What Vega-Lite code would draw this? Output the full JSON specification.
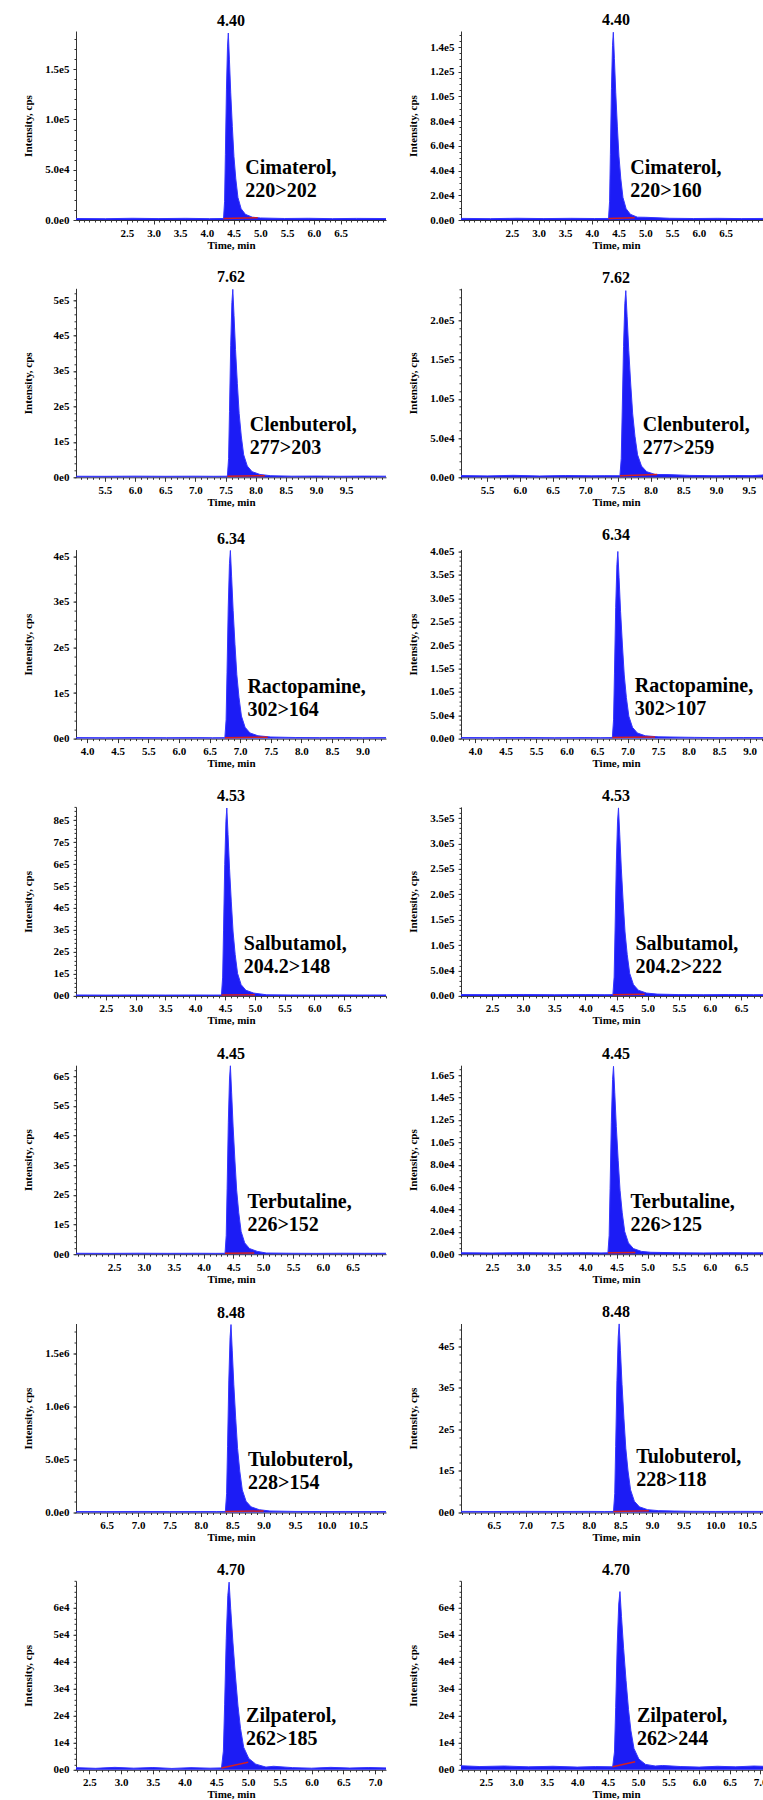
{
"$schema": "https://vega.github.io/schema/vega-lite/v6.json",
"padding": {"left": 22, "top": 12, "right": 0, "bottom": 0},
"columns": 2,
"spacing": {"row": 19.3, "column": 19},
"config": {
  "font": "Liberation Serif",
  "view": {"stroke": null},
  "title": {"font": "Liberation Serif", "fontSize": 16, "fontWeight": "bold", "color": "#000000", "offset": 2, "baseline": "alphabetic", "anchor": "middle", "frame": "group"},
  "axis": {"labelFont": "Liberation Serif", "labelFontSize": 11, "labelFontWeight": "bold", "labelColor": "#000000", "titleFont": "Liberation Serif", "titleFontSize": 11, "titleFontWeight": "bold", "titleColor": "#000000", "domainColor": "#333333", "tickColor": "#333333", "grid": false, "labelOverlap": false, "labelFlush": false},
  "axisX": {"tickSize": 4, "labelPadding": 3, "titlePadding": 1, "minExtent": 18, "maxExtent": 18},
  "axisY": {"tickSize": 3, "labelPadding": 4, "titlePadding": 5, "minExtent": 38, "maxExtent": 38},
  "area": {"color": "#1c1cf5", "clip": true},
  "line": {"clip": true},
  "text": {"align": "left", "baseline": "alphabetic", "dx": 17, "fontSize": 20, "fontWeight": "bold", "font": "Liberation Serif", "lineHeight": 23, "lineBreak": "\n", "color": "#000000"}
},
"datasets": {
"trace": [
{"p":"a","t":1.55,"i":1500},{"p":"a","t":2.1,"i":1300},{"p":"a","t":2.6,"i":1700},{"p":"a","t":3.1,"i":1400},{"p":"a","t":3.6,"i":1650},{"p":"a","t":4.05,"i":1350},{"p":"a","t":4.31,"i":1500},
{"p":"a","t":4.33,"i":18600},{"p":"a","t":4.345,"i":65100},{"p":"a","t":4.365,"i":130200},{"p":"a","t":4.385,"i":173000},{"p":"a","t":4.40,"i":186000},{"p":"a","t":4.42,"i":160000},{"p":"a","t":4.445,"i":126500},{"p":"a","t":4.475,"i":93000},{"p":"a","t":4.505,"i":63200},{"p":"a","t":4.54,"i":40900},{"p":"a","t":4.58,"i":22300},{"p":"a","t":4.64,"i":11200},{"p":"a","t":4.72,"i":5600},{"p":"a","t":4.85,"i":2800},
{"p":"a","t":5.0,"i":2000},{"p":"a","t":5.45,"i":1500},{"p":"a","t":5.9,"i":1700},{"p":"a","t":6.35,"i":1350},{"p":"a","t":6.8,"i":1600},{"p":"a","t":7.35,"i":1450},

{"p":"b","t":1.55,"i":1300},{"p":"b","t":2.1,"i":1100},{"p":"b","t":2.6,"i":1400},{"p":"b","t":3.1,"i":1150},{"p":"b","t":3.6,"i":1350},{"p":"b","t":4.05,"i":1200},{"p":"b","t":4.31,"i":1250},
{"p":"b","t":4.33,"i":15200},{"p":"b","t":4.345,"i":53200},{"p":"b","t":4.365,"i":106400},{"p":"b","t":4.385,"i":141400},{"p":"b","t":4.40,"i":152000},{"p":"b","t":4.42,"i":130700},{"p":"b","t":4.445,"i":103400},{"p":"b","t":4.475,"i":76000},{"p":"b","t":4.505,"i":51700},{"p":"b","t":4.54,"i":33400},{"p":"b","t":4.58,"i":18200},{"p":"b","t":4.64,"i":9100},{"p":"b","t":4.72,"i":4600},{"p":"b","t":4.85,"i":2300},
{"p":"b","t":5.0,"i":2200},{"p":"b","t":5.45,"i":1400},{"p":"b","t":5.9,"i":1200},{"p":"b","t":6.35,"i":1350},{"p":"b","t":6.8,"i":1150},{"p":"b","t":7.35,"i":1300},

{"p":"c","t":5.02,"i":3000},{"p":"c","t":5.5,"i":2800},{"p":"c","t":6.0,"i":3300},{"p":"c","t":6.5,"i":2900},{"p":"c","t":7.0,"i":3200},{"p":"c","t":7.3,"i":2900},{"p":"c","t":7.53,"i":3100},
{"p":"c","t":7.55,"i":53000},{"p":"c","t":7.565,"i":185500},{"p":"c","t":7.585,"i":371000},{"p":"c","t":7.605,"i":492900},{"p":"c","t":7.62,"i":530000},{"p":"c","t":7.64,"i":455800},{"p":"c","t":7.665,"i":360400},{"p":"c","t":7.695,"i":265000},{"p":"c","t":7.725,"i":180200},{"p":"c","t":7.76,"i":116600},{"p":"c","t":7.80,"i":63600},{"p":"c","t":7.86,"i":31800},{"p":"c","t":7.94,"i":15900},{"p":"c","t":8.07,"i":8000},
{"p":"c","t":8.25,"i":4500},{"p":"c","t":8.6,"i":3200},{"p":"c","t":9.0,"i":3500},{"p":"c","t":9.4,"i":3000},{"p":"c","t":9.8,"i":3400},{"p":"c","t":10.16,"i":3100},

{"p":"d","t":5.1,"i":2200},{"p":"d","t":5.5,"i":1800},{"p":"d","t":5.9,"i":2500},{"p":"d","t":6.3,"i":1700},{"p":"d","t":6.7,"i":2300},{"p":"d","t":7.1,"i":1900},{"p":"d","t":7.3,"i":2100},{"p":"d","t":7.53,"i":2000},
{"p":"d","t":7.55,"i":23800},{"p":"d","t":7.565,"i":83300},{"p":"d","t":7.585,"i":166600},{"p":"d","t":7.605,"i":221300},{"p":"d","t":7.62,"i":238000},{"p":"d","t":7.64,"i":204700},{"p":"d","t":7.665,"i":161800},{"p":"d","t":7.695,"i":119000},{"p":"d","t":7.725,"i":80900},{"p":"d","t":7.76,"i":52400},{"p":"d","t":7.80,"i":28600},{"p":"d","t":7.86,"i":14300},{"p":"d","t":7.94,"i":7100},{"p":"d","t":8.07,"i":3600},
{"p":"d","t":8.25,"i":3500},{"p":"d","t":8.6,"i":2400},{"p":"d","t":9.0,"i":2000},{"p":"d","t":9.3,"i":2300},{"p":"d","t":9.55,"i":2100},{"p":"d","t":9.7,"i":2800},{"p":"d","t":9.84,"i":5000},

{"p":"e","t":3.82,"i":2200},{"p":"e","t":4.3,"i":1900},{"p":"e","t":4.8,"i":2300},{"p":"e","t":5.3,"i":2000},{"p":"e","t":5.8,"i":2200},{"p":"e","t":6.05,"i":1900},{"p":"e","t":6.25,"i":2100},
{"p":"e","t":6.27,"i":41300},{"p":"e","t":6.285,"i":144600},{"p":"e","t":6.305,"i":289100},{"p":"e","t":6.325,"i":384100},{"p":"e","t":6.34,"i":413000},{"p":"e","t":6.36,"i":355200},{"p":"e","t":6.385,"i":280800},{"p":"e","t":6.415,"i":206500},{"p":"e","t":6.445,"i":140400},{"p":"e","t":6.48,"i":90900},{"p":"e","t":6.52,"i":49600},{"p":"e","t":6.58,"i":24800},{"p":"e","t":6.66,"i":12400},{"p":"e","t":6.79,"i":6200},
{"p":"e","t":7.0,"i":3500},{"p":"e","t":7.4,"i":2400},{"p":"e","t":7.8,"i":2100},{"p":"e","t":8.2,"i":2300},{"p":"e","t":8.5,"i":2000},{"p":"e","t":8.88,"i":2200},

{"p":"f","t":3.77,"i":2300},{"p":"f","t":4.3,"i":2000},{"p":"f","t":4.8,"i":2400},{"p":"f","t":5.3,"i":1900},{"p":"f","t":5.8,"i":2200},{"p":"f","t":6.05,"i":2000},{"p":"f","t":6.25,"i":2100},
{"p":"f","t":6.27,"i":40000},{"p":"f","t":6.285,"i":140000},{"p":"f","t":6.305,"i":280000},{"p":"f","t":6.325,"i":372000},{"p":"f","t":6.34,"i":400000},{"p":"f","t":6.36,"i":344000},{"p":"f","t":6.385,"i":272000},{"p":"f","t":6.415,"i":200000},{"p":"f","t":6.445,"i":136000},{"p":"f","t":6.48,"i":88000},{"p":"f","t":6.52,"i":48000},{"p":"f","t":6.58,"i":24000},{"p":"f","t":6.66,"i":12000},{"p":"f","t":6.79,"i":6000},
{"p":"f","t":7.0,"i":3800},{"p":"f","t":7.6,"i":2600},{"p":"f","t":8.0,"i":2000},{"p":"f","t":8.4,"i":2300},{"p":"f","t":8.85,"i":2100},

{"p":"g","t":2.0,"i":4200},{"p":"g","t":2.5,"i":3800},{"p":"g","t":3.0,"i":4300},{"p":"g","t":3.5,"i":3900},{"p":"g","t":4.0,"i":4200},{"p":"g","t":4.3,"i":3900},{"p":"g","t":4.44,"i":4000},
{"p":"g","t":4.46,"i":85500},{"p":"g","t":4.475,"i":299300},{"p":"g","t":4.495,"i":598500},{"p":"g","t":4.515,"i":795200},{"p":"g","t":4.53,"i":855000},{"p":"g","t":4.55,"i":735300},{"p":"g","t":4.575,"i":581400},{"p":"g","t":4.605,"i":427500},{"p":"g","t":4.635,"i":290700},{"p":"g","t":4.67,"i":188100},{"p":"g","t":4.71,"i":102600},{"p":"g","t":4.77,"i":51300},{"p":"g","t":4.85,"i":25700},{"p":"g","t":4.98,"i":12800},
{"p":"g","t":5.2,"i":5000},{"p":"g","t":5.6,"i":4200},{"p":"g","t":6.0,"i":3900},{"p":"g","t":6.4,"i":4300},{"p":"g","t":6.8,"i":4000},{"p":"g","t":7.2,"i":4100},

{"p":"h","t":2.0,"i":2700},{"p":"h","t":2.5,"i":2400},{"p":"h","t":3.0,"i":2800},{"p":"h","t":3.5,"i":2300},{"p":"h","t":4.0,"i":2600},{"p":"h","t":4.3,"i":2400},{"p":"h","t":4.44,"i":2500},
{"p":"h","t":4.46,"i":37000},{"p":"h","t":4.475,"i":129500},{"p":"h","t":4.495,"i":259000},{"p":"h","t":4.515,"i":344100},{"p":"h","t":4.53,"i":370000},{"p":"h","t":4.55,"i":318200},{"p":"h","t":4.575,"i":251600},{"p":"h","t":4.605,"i":185000},{"p":"h","t":4.635,"i":125800},{"p":"h","t":4.67,"i":81400},{"p":"h","t":4.71,"i":44400},{"p":"h","t":4.77,"i":22200},{"p":"h","t":4.85,"i":11100},{"p":"h","t":4.98,"i":5600},
{"p":"h","t":5.15,"i":3500},{"p":"h","t":5.5,"i":2600},{"p":"h","t":5.9,"i":2400},{"p":"h","t":6.3,"i":2700},{"p":"h","t":6.7,"i":2400},{"p":"h","t":6.98,"i":2600},

{"p":"i","t":1.86,"i":3100},{"p":"i","t":2.4,"i":2800},{"p":"i","t":2.9,"i":3300},{"p":"i","t":3.4,"i":2900},{"p":"i","t":3.9,"i":3200},{"p":"i","t":4.2,"i":2900},{"p":"i","t":4.36,"i":3000},
{"p":"i","t":4.38,"i":63500},{"p":"i","t":4.395,"i":222300},{"p":"i","t":4.415,"i":444500},{"p":"i","t":4.435,"i":590600},{"p":"i","t":4.45,"i":635000},{"p":"i","t":4.47,"i":546100},{"p":"i","t":4.495,"i":431800},{"p":"i","t":4.525,"i":317500},{"p":"i","t":4.555,"i":215900},{"p":"i","t":4.59,"i":139700},{"p":"i","t":4.63,"i":76200},{"p":"i","t":4.69,"i":38100},{"p":"i","t":4.77,"i":19100},{"p":"i","t":4.90,"i":9500},
{"p":"i","t":5.05,"i":4000},{"p":"i","t":5.5,"i":3200},{"p":"i","t":5.9,"i":2900},{"p":"i","t":6.3,"i":3300},{"p":"i","t":6.7,"i":3000},{"p":"i","t":7.06,"i":3100},

{"p":"j","t":2.0,"i":1300},{"p":"j","t":2.5,"i":1100},{"p":"j","t":3.0,"i":1350},{"p":"j","t":3.5,"i":1150},{"p":"j","t":4.0,"i":1300},{"p":"j","t":4.25,"i":1150},{"p":"j","t":4.36,"i":1200},
{"p":"j","t":4.38,"i":16800},{"p":"j","t":4.395,"i":58800},{"p":"j","t":4.415,"i":117600},{"p":"j","t":4.435,"i":156200},{"p":"j","t":4.45,"i":168000},{"p":"j","t":4.47,"i":144500},{"p":"j","t":4.495,"i":114200},{"p":"j","t":4.525,"i":84000},{"p":"j","t":4.555,"i":57100},{"p":"j","t":4.59,"i":37000},{"p":"j","t":4.63,"i":20200},{"p":"j","t":4.69,"i":10100},{"p":"j","t":4.77,"i":5000},{"p":"j","t":4.90,"i":2500},
{"p":"j","t":5.05,"i":1700},{"p":"j","t":5.5,"i":1300},{"p":"j","t":5.9,"i":1150},{"p":"j","t":6.3,"i":1350},{"p":"j","t":6.7,"i":1200},{"p":"j","t":6.98,"i":1300},

{"p":"k","t":6.01,"i":9500},{"p":"k","t":6.5,"i":8500},{"p":"k","t":7.0,"i":9800},{"p":"k","t":7.5,"i":8800},{"p":"k","t":8.0,"i":9500},{"p":"k","t":8.25,"i":9000},{"p":"k","t":8.39,"i":9000},
{"p":"k","t":8.41,"i":177000},{"p":"k","t":8.425,"i":619500},{"p":"k","t":8.445,"i":1239000},{"p":"k","t":8.465,"i":1646100},{"p":"k","t":8.48,"i":1770000},{"p":"k","t":8.50,"i":1522200},{"p":"k","t":8.525,"i":1203600},{"p":"k","t":8.555,"i":885000},{"p":"k","t":8.585,"i":601800},{"p":"k","t":8.62,"i":389400},{"p":"k","t":8.66,"i":212400},{"p":"k","t":8.72,"i":106200},{"p":"k","t":8.80,"i":53100},{"p":"k","t":8.93,"i":26600},
{"p":"k","t":9.1,"i":14000},{"p":"k","t":9.5,"i":10000},{"p":"k","t":9.9,"i":9000},{"p":"k","t":10.3,"i":9600},{"p":"k","t":10.7,"i":8800},{"p":"k","t":10.95,"i":9300},

{"p":"l","t":5.98,"i":2600},{"p":"l","t":6.5,"i":2300},{"p":"l","t":7.0,"i":2700},{"p":"l","t":7.5,"i":2400},{"p":"l","t":8.0,"i":2600},{"p":"l","t":8.25,"i":2400},{"p":"l","t":8.39,"i":2500},
{"p":"l","t":8.41,"i":45400},{"p":"l","t":8.425,"i":158900},{"p":"l","t":8.445,"i":317800},{"p":"l","t":8.465,"i":422200},{"p":"l","t":8.48,"i":454000},{"p":"l","t":8.50,"i":390400},{"p":"l","t":8.525,"i":308700},{"p":"l","t":8.555,"i":227000},{"p":"l","t":8.585,"i":154400},{"p":"l","t":8.62,"i":99900},{"p":"l","t":8.66,"i":54500},{"p":"l","t":8.72,"i":27200},{"p":"l","t":8.80,"i":13600},{"p":"l","t":8.93,"i":6800},
{"p":"l","t":9.1,"i":4500},{"p":"l","t":9.35,"i":3500},{"p":"l","t":9.6,"i":2800},{"p":"l","t":10.0,"i":2500},{"p":"l","t":10.4,"i":2700},{"p":"l","t":10.88,"i":2500},

{"p":"m","t":2.29,"i":800},{"p":"m","t":2.6,"i":550},{"p":"m","t":2.9,"i":900},{"p":"m","t":3.2,"i":600},{"p":"m","t":3.5,"i":850},{"p":"m","t":3.8,"i":500},{"p":"m","t":4.1,"i":800},{"p":"m","t":4.4,"i":600},{"p":"m","t":4.58,"i":700},
{"p":"m","t":4.61,"i":6950},{"p":"m","t":4.63,"i":24300},{"p":"m","t":4.655,"i":48650},{"p":"m","t":4.68,"i":64600},{"p":"m","t":4.70,"i":69500},{"p":"m","t":4.725,"i":59800},{"p":"m","t":4.76,"i":47300},{"p":"m","t":4.80,"i":34750},{"p":"m","t":4.84,"i":23600},{"p":"m","t":4.88,"i":15300},{"p":"m","t":4.93,"i":8300},{"p":"m","t":5.01,"i":4200},{"p":"m","t":5.12,"i":2100},{"p":"m","t":5.28,"i":1000},
{"p":"m","t":5.4,"i":1300},{"p":"m","t":5.7,"i":800},{"p":"m","t":6.0,"i":600},{"p":"m","t":6.3,"i":900},{"p":"m","t":6.6,"i":650},{"p":"m","t":6.9,"i":850},{"p":"m","t":7.17,"i":700},

{"p":"n","t":2.09,"i":1500},{"p":"n","t":2.4,"i":1200},{"p":"n","t":2.8,"i":1400},{"p":"n","t":3.2,"i":1100},{"p":"n","t":3.6,"i":1300},{"p":"n","t":4.0,"i":1000},{"p":"n","t":4.3,"i":1200},{"p":"n","t":4.58,"i":1100},
{"p":"n","t":4.61,"i":6600},{"p":"n","t":4.63,"i":23100},{"p":"n","t":4.655,"i":46200},{"p":"n","t":4.68,"i":61400},{"p":"n","t":4.70,"i":66000},{"p":"n","t":4.725,"i":56800},{"p":"n","t":4.76,"i":44900},{"p":"n","t":4.80,"i":33000},{"p":"n","t":4.84,"i":22400},{"p":"n","t":4.88,"i":14500},{"p":"n","t":4.93,"i":7900},{"p":"n","t":5.01,"i":4000},{"p":"n","t":5.12,"i":2000},{"p":"n","t":5.28,"i":1400},
{"p":"n","t":5.4,"i":1600},{"p":"n","t":5.7,"i":1200},{"p":"n","t":6.0,"i":1000},{"p":"n","t":6.3,"i":1300},{"p":"n","t":6.6,"i":1100},{"p":"n","t":6.9,"i":1400},{"p":"n","t":7.18,"i":1200}
],
"red": [
{"p":"a","t":4.31,"i":1500},{"p":"a","t":4.95,"i":2200},
{"p":"b","t":4.31,"i":1250},{"p":"b","t":4.80,"i":1800},
{"p":"c","t":7.53,"i":3100},{"p":"c","t":8.15,"i":4500},
{"p":"d","t":7.53,"i":2000},{"p":"d","t":8.1,"i":3500},
{"p":"e","t":6.25,"i":2100},{"p":"e","t":6.95,"i":3200},
{"p":"f","t":6.25,"i":2100},{"p":"f","t":6.95,"i":3600},
{"p":"g","t":4.44,"i":4000},{"p":"g","t":5.0,"i":5000},
{"p":"h","t":4.44,"i":2500},{"p":"h","t":4.95,"i":3400},
{"p":"i","t":4.36,"i":3000},{"p":"i","t":4.85,"i":3800},
{"p":"j","t":4.36,"i":1200},{"p":"j","t":4.8,"i":1600},
{"p":"k","t":8.39,"i":9000},{"p":"k","t":9.0,"i":14000},
{"p":"l","t":8.39,"i":2500},{"p":"l","t":8.95,"i":4500},
{"p":"m","t":4.58,"i":700},{"p":"m","t":5.0,"i":2800},
{"p":"n","t":4.58,"i":1100},{"p":"n","t":4.95,"i":3000}
],
"labels": [
{"p":"a","t":4.40,"txt":"Cimaterol,\n220>202"},
{"p":"b","t":4.40,"txt":"Cimaterol,\n220>160"},
{"p":"c","t":7.62,"txt":"Clenbuterol,\n277>203"},
{"p":"d","t":7.62,"txt":"Clenbuterol,\n277>259"},
{"p":"e","t":6.34,"txt":"Ractopamine,\n302>164"},
{"p":"f","t":6.34,"txt":"Ractopamine,\n302>107"},
{"p":"g","t":4.53,"txt":"Salbutamol,\n204.2>148"},
{"p":"h","t":4.53,"txt":"Salbutamol,\n204.2>222"},
{"p":"i","t":4.45,"txt":"Terbutaline,\n226>152"},
{"p":"j","t":4.45,"txt":"Terbutaline,\n226>125"},
{"p":"k","t":8.48,"txt":"Tulobuterol,\n228>154"},
{"p":"l","t":8.48,"txt":"Tulobuterol,\n228>118"},
{"p":"m","t":4.70,"txt":"Zilpaterol,\n262>185"},
{"p":"n","t":4.70,"txt":"Zilpaterol,\n262>244"}
]
},
"concat": [
{"title": "4.40", "width": 310, "height": 189, "resolve": {"axis": {"x": "independent", "y": "independent"}}, "layer": [
 {"data": {"name": "trace"}, "transform": [{"filter": "datum.p == 'a'"}], "mark": "area", "encoding": {
   "x": {"field": "t", "type": "quantitative", "scale": {"domain": [1.55, 7.35], "nice": false, "zero": false}, "axis": {"title": "Time, min", "values": [2.5,3,3.5,4,4.5,5,5.5,6,6.5], "format": ".1f", "labelOverlap": false}},
   "y": {"field": "i", "type": "quantitative", "scale": {"domain": [0, 188000], "nice": false}, "axis": {"title": "Intensity, cps", "values": [0,50000,100000,150000], "labelOverlap": false, "labelExpr": "replace(format(datum.value,'.1e'),'e+','e')"}}}},
 {"data": {"name": "trace"}, "transform": [{"filter": "datum.p == 'a'"}], "mark": {"type": "line", "color": "#3535ff", "strokeWidth": 1}, "encoding": {"x": {"field": "t", "type": "quantitative", "axis": {"orient": "bottom", "tickCount": 50, "labels": false, "domain": false, "title": null, "tickSize": 2}}, "y": {"field": "i", "type": "quantitative", "axis": {"orient": "left", "tickCount": 20, "labels": false, "domain": false, "title": null, "tickSize": 2}}}},
 {"data": {"name": "red"}, "transform": [{"filter": "datum.p == 'a'"}], "mark": {"type": "line", "color": "#d42020", "strokeWidth": 1.5}, "encoding": {"x": {"field": "t", "type": "quantitative", "axis": null}, "y": {"field": "i", "type": "quantitative", "axis": null}}},
 {"data": {"name": "labels"}, "transform": [{"filter": "datum.p == 'a'"}], "mark": "text", "encoding": {"x": {"field": "t", "type": "quantitative", "axis": null}, "y": {"datum": 46000, "type": "quantitative", "axis": null}, "text": {"field": "txt"}}}
]},
{"title": "4.40", "width": 310, "height": 189, "resolve": {"axis": {"x": "independent", "y": "independent"}}, "layer": [
 {"data": {"name": "trace"}, "transform": [{"filter": "datum.p == 'b'"}], "mark": "area", "encoding": {
   "x": {"field": "t", "type": "quantitative", "scale": {"domain": [1.55, 7.35], "nice": false, "zero": false}, "axis": {"title": "Time, min", "values": [2.5,3,3.5,4,4.5,5,5.5,6,6.5], "format": ".1f", "labelOverlap": false}},
   "y": {"field": "i", "type": "quantitative", "scale": {"domain": [0, 153000], "nice": false}, "axis": {"title": "Intensity, cps", "values": [0,20000,40000,60000,80000,100000,120000,140000], "labelOverlap": false, "labelExpr": "replace(format(datum.value,'.1e'),'e+','e')"}}}},
 {"data": {"name": "trace"}, "transform": [{"filter": "datum.p == 'b'"}], "mark": {"type": "line", "color": "#3535ff", "strokeWidth": 1}, "encoding": {"x": {"field": "t", "type": "quantitative", "axis": {"orient": "bottom", "tickCount": 50, "labels": false, "domain": false, "title": null, "tickSize": 2}}, "y": {"field": "i", "type": "quantitative", "axis": {"orient": "left", "tickCount": 30, "labels": false, "domain": false, "title": null, "tickSize": 2}}}},
 {"data": {"name": "red"}, "transform": [{"filter": "datum.p == 'b'"}], "mark": {"type": "line", "color": "#d42020", "strokeWidth": 1.5}, "encoding": {"x": {"field": "t", "type": "quantitative", "axis": null}, "y": {"field": "i", "type": "quantitative", "axis": null}}},
 {"data": {"name": "labels"}, "transform": [{"filter": "datum.p == 'b'"}], "mark": "text", "encoding": {"x": {"field": "t", "type": "quantitative", "axis": null}, "y": {"datum": 37500, "type": "quantitative", "axis": null}, "text": {"field": "txt"}}}
]},
{"title": "7.62", "width": 310, "height": 189, "resolve": {"axis": {"x": "independent", "y": "independent"}}, "layer": [
 {"data": {"name": "trace"}, "transform": [{"filter": "datum.p == 'c'"}], "mark": "area", "encoding": {
   "x": {"field": "t", "type": "quantitative", "scale": {"domain": [5.02, 10.16], "nice": false, "zero": false}, "axis": {"title": "Time, min", "values": [5.5,6,6.5,7,7.5,8,8.5,9,9.5], "format": ".1f", "labelOverlap": false}},
   "y": {"field": "i", "type": "quantitative", "scale": {"domain": [0, 533000], "nice": false}, "axis": {"title": "Intensity, cps", "values": [0,100000,200000,300000,400000,500000], "labelOverlap": false, "labelExpr": "replace(format(datum.value,'.0e'),'e+','e')"}}}},
 {"data": {"name": "trace"}, "transform": [{"filter": "datum.p == 'c'"}], "mark": {"type": "line", "color": "#3535ff", "strokeWidth": 1}, "encoding": {"x": {"field": "t", "type": "quantitative", "axis": {"orient": "bottom", "tickCount": 50, "labels": false, "domain": false, "title": null, "tickSize": 2}}, "y": {"field": "i", "type": "quantitative", "axis": {"orient": "left", "tickCount": 25, "labels": false, "domain": false, "title": null, "tickSize": 2}}}},
 {"data": {"name": "red"}, "transform": [{"filter": "datum.p == 'c'"}], "mark": {"type": "line", "color": "#d42020", "strokeWidth": 1.5}, "encoding": {"x": {"field": "t", "type": "quantitative", "axis": null}, "y": {"field": "i", "type": "quantitative", "axis": null}}},
 {"data": {"name": "labels"}, "transform": [{"filter": "datum.p == 'c'"}], "mark": "text", "encoding": {"x": {"field": "t", "type": "quantitative", "axis": null}, "y": {"datum": 130000, "type": "quantitative", "axis": null}, "text": {"field": "txt"}}}
]},
{"title": "7.62", "width": 310, "height": 189, "resolve": {"axis": {"x": "independent", "y": "independent"}}, "layer": [
 {"data": {"name": "trace"}, "transform": [{"filter": "datum.p == 'd'"}], "mark": "area", "encoding": {
   "x": {"field": "t", "type": "quantitative", "scale": {"domain": [5.1, 9.84], "nice": false, "zero": false}, "axis": {"title": "Time, min", "values": [5.5,6,6.5,7,7.5,8,8.5,9,9.5], "format": ".1f", "labelOverlap": false}},
   "y": {"field": "i", "type": "quantitative", "scale": {"domain": [0, 241000], "nice": false}, "axis": {"title": "Intensity, cps", "values": [0,50000,100000,150000,200000], "labelOverlap": false, "labelExpr": "replace(format(datum.value,'.1e'),'e+','e')"}}}},
 {"data": {"name": "trace"}, "transform": [{"filter": "datum.p == 'd'"}], "mark": {"type": "line", "color": "#3535ff", "strokeWidth": 1}, "encoding": {"x": {"field": "t", "type": "quantitative", "axis": {"orient": "bottom", "tickCount": 50, "labels": false, "domain": false, "title": null, "tickSize": 2}}, "y": {"field": "i", "type": "quantitative", "axis": {"orient": "left", "tickCount": 25, "labels": false, "domain": false, "title": null, "tickSize": 2}}}},
 {"data": {"name": "red"}, "transform": [{"filter": "datum.p == 'd'"}], "mark": {"type": "line", "color": "#d42020", "strokeWidth": 1.5}, "encoding": {"x": {"field": "t", "type": "quantitative", "axis": null}, "y": {"field": "i", "type": "quantitative", "axis": null}}},
 {"data": {"name": "labels"}, "transform": [{"filter": "datum.p == 'd'"}], "mark": "text", "encoding": {"x": {"field": "t", "type": "quantitative", "axis": null}, "y": {"datum": 59000, "type": "quantitative", "axis": null}, "text": {"field": "txt"}}}
]},
{"title": "6.34", "width": 310, "height": 189, "resolve": {"axis": {"x": "independent", "y": "independent"}}, "layer": [
 {"data": {"name": "trace"}, "transform": [{"filter": "datum.p == 'e'"}], "mark": "area", "encoding": {
   "x": {"field": "t", "type": "quantitative", "scale": {"domain": [3.82, 8.88], "nice": false, "zero": false}, "axis": {"title": "Time, min", "values": [4,4.5,5,5.5,6,6.5,7,7.5,8,8.5], "labelOverlap": false, "labelExpr": "datum.value < 4.9 ? format(datum.value,'.1f') : format(datum.value + 0.5,'.1f')"}},
   "y": {"field": "i", "type": "quantitative", "scale": {"domain": [0, 415000], "nice": false}, "axis": {"title": "Intensity, cps", "values": [0,100000,200000,300000,400000], "labelOverlap": false, "labelExpr": "replace(format(datum.value,'.0e'),'e+','e')"}}}},
 {"data": {"name": "trace"}, "transform": [{"filter": "datum.p == 'e'"}], "mark": {"type": "line", "color": "#3535ff", "strokeWidth": 1}, "encoding": {"x": {"field": "t", "type": "quantitative", "axis": {"orient": "bottom", "tickCount": 50, "labels": false, "domain": false, "title": null, "tickSize": 2}}, "y": {"field": "i", "type": "quantitative", "axis": {"orient": "left", "tickCount": 20, "labels": false, "domain": false, "title": null, "tickSize": 2}}}},
 {"data": {"name": "red"}, "transform": [{"filter": "datum.p == 'e'"}], "mark": {"type": "line", "color": "#d42020", "strokeWidth": 1.5}, "encoding": {"x": {"field": "t", "type": "quantitative", "axis": null}, "y": {"field": "i", "type": "quantitative", "axis": null}}},
 {"data": {"name": "labels"}, "transform": [{"filter": "datum.p == 'e'"}], "mark": "text", "encoding": {"x": {"field": "t", "type": "quantitative", "axis": null}, "y": {"datum": 101000, "type": "quantitative", "axis": null}, "text": {"field": "txt"}}}
]},
{"title": "6.34", "width": 310, "height": 189, "resolve": {"axis": {"x": "independent", "y": "independent"}}, "layer": [
 {"data": {"name": "trace"}, "transform": [{"filter": "datum.p == 'f'"}], "mark": "area", "encoding": {
   "x": {"field": "t", "type": "quantitative", "scale": {"domain": [3.77, 8.85], "nice": false, "zero": false}, "axis": {"title": "Time, min", "values": [4,4.5,5,5.5,6,6.5,7,7.5,8,8.5], "labelOverlap": false, "labelExpr": "datum.value < 4.9 ? format(datum.value,'.1f') : format(datum.value + 0.5,'.1f')"}},
   "y": {"field": "i", "type": "quantitative", "scale": {"domain": [0, 404000], "nice": false}, "axis": {"title": "Intensity, cps", "values": [0,50000,100000,150000,200000,250000,300000,350000,400000], "labelOverlap": false, "labelExpr": "replace(format(datum.value,'.1e'),'e+','e')"}}}},
 {"data": {"name": "trace"}, "transform": [{"filter": "datum.p == 'f'"}], "mark": {"type": "line", "color": "#3535ff", "strokeWidth": 1}, "encoding": {"x": {"field": "t", "type": "quantitative", "axis": {"orient": "bottom", "tickCount": 50, "labels": false, "domain": false, "title": null, "tickSize": 2}}, "y": {"field": "i", "type": "quantitative", "axis": {"orient": "left", "tickCount": 40, "labels": false, "domain": false, "title": null, "tickSize": 2}}}},
 {"data": {"name": "red"}, "transform": [{"filter": "datum.p == 'f'"}], "mark": {"type": "line", "color": "#d42020", "strokeWidth": 1.5}, "encoding": {"x": {"field": "t", "type": "quantitative", "axis": null}, "y": {"field": "i", "type": "quantitative", "axis": null}}},
 {"data": {"name": "labels"}, "transform": [{"filter": "datum.p == 'f'"}], "mark": "text", "encoding": {"x": {"field": "t", "type": "quantitative", "axis": null}, "y": {"datum": 99000, "type": "quantitative", "axis": null}, "text": {"field": "txt"}}}
]},
{"title": "4.53", "width": 310, "height": 189, "resolve": {"axis": {"x": "independent", "y": "independent"}}, "layer": [
 {"data": {"name": "trace"}, "transform": [{"filter": "datum.p == 'g'"}], "mark": "area", "encoding": {
   "x": {"field": "t", "type": "quantitative", "scale": {"domain": [2.0, 7.2], "nice": false, "zero": false}, "axis": {"title": "Time, min", "values": [2.5,3,3.5,4,4.5,5,5.5,6,6.5], "format": ".1f", "labelOverlap": false}},
   "y": {"field": "i", "type": "quantitative", "scale": {"domain": [0, 860000], "nice": false}, "axis": {"title": "Intensity, cps", "values": [0,100000,200000,300000,400000,500000,600000,700000,800000], "labelOverlap": false, "labelExpr": "replace(format(datum.value,'.0e'),'e+','e')"}}}},
 {"data": {"name": "trace"}, "transform": [{"filter": "datum.p == 'g'"}], "mark": {"type": "line", "color": "#3535ff", "strokeWidth": 1}, "encoding": {"x": {"field": "t", "type": "quantitative", "axis": {"orient": "bottom", "tickCount": 50, "labels": false, "domain": false, "title": null, "tickSize": 2}}, "y": {"field": "i", "type": "quantitative", "axis": {"orient": "left", "tickCount": 40, "labels": false, "domain": false, "title": null, "tickSize": 2}}}},
 {"data": {"name": "red"}, "transform": [{"filter": "datum.p == 'g'"}], "mark": {"type": "line", "color": "#d42020", "strokeWidth": 1.5}, "encoding": {"x": {"field": "t", "type": "quantitative", "axis": null}, "y": {"field": "i", "type": "quantitative", "axis": null}}},
 {"data": {"name": "labels"}, "transform": [{"filter": "datum.p == 'g'"}], "mark": "text", "encoding": {"x": {"field": "t", "type": "quantitative", "axis": null}, "y": {"datum": 211000, "type": "quantitative", "axis": null}, "text": {"field": "txt"}}}
]},
{"title": "4.53", "width": 310, "height": 189, "resolve": {"axis": {"x": "independent", "y": "independent"}}, "layer": [
 {"data": {"name": "trace"}, "transform": [{"filter": "datum.p == 'h'"}], "mark": "area", "encoding": {
   "x": {"field": "t", "type": "quantitative", "scale": {"domain": [2.0, 6.98], "nice": false, "zero": false}, "axis": {"title": "Time, min", "values": [2.5,3,3.5,4,4.5,5,5.5,6,6.5], "format": ".1f", "labelOverlap": false}},
   "y": {"field": "i", "type": "quantitative", "scale": {"domain": [0, 372000], "nice": false}, "axis": {"title": "Intensity, cps", "values": [0,50000,100000,150000,200000,250000,300000,350000], "labelOverlap": false, "labelExpr": "replace(format(datum.value,'.1e'),'e+','e')"}}}},
 {"data": {"name": "trace"}, "transform": [{"filter": "datum.p == 'h'"}], "mark": {"type": "line", "color": "#3535ff", "strokeWidth": 1}, "encoding": {"x": {"field": "t", "type": "quantitative", "axis": {"orient": "bottom", "tickCount": 50, "labels": false, "domain": false, "title": null, "tickSize": 2}}, "y": {"field": "i", "type": "quantitative", "axis": {"orient": "left", "tickCount": 40, "labels": false, "domain": false, "title": null, "tickSize": 2}}}},
 {"data": {"name": "red"}, "transform": [{"filter": "datum.p == 'h'"}], "mark": {"type": "line", "color": "#d42020", "strokeWidth": 1.5}, "encoding": {"x": {"field": "t", "type": "quantitative", "axis": null}, "y": {"field": "i", "type": "quantitative", "axis": null}}},
 {"data": {"name": "labels"}, "transform": [{"filter": "datum.p == 'h'"}], "mark": "text", "encoding": {"x": {"field": "t", "type": "quantitative", "axis": null}, "y": {"datum": 91000, "type": "quantitative", "axis": null}, "text": {"field": "txt"}}}
]},
{"title": "4.45", "width": 310, "height": 189, "resolve": {"axis": {"x": "independent", "y": "independent"}}, "layer": [
 {"data": {"name": "trace"}, "transform": [{"filter": "datum.p == 'i'"}], "mark": "area", "encoding": {
   "x": {"field": "t", "type": "quantitative", "scale": {"domain": [1.86, 7.06], "nice": false, "zero": false}, "axis": {"title": "Time, min", "values": [2.5,3,3.5,4,4.5,5,5.5,6,6.5], "format": ".1f", "labelOverlap": false}},
   "y": {"field": "i", "type": "quantitative", "scale": {"domain": [0, 637000], "nice": false}, "axis": {"title": "Intensity, cps", "values": [0,100000,200000,300000,400000,500000,600000], "labelOverlap": false, "labelExpr": "replace(format(datum.value,'.0e'),'e+','e')"}}}},
 {"data": {"name": "trace"}, "transform": [{"filter": "datum.p == 'i'"}], "mark": {"type": "line", "color": "#3535ff", "strokeWidth": 1}, "encoding": {"x": {"field": "t", "type": "quantitative", "axis": {"orient": "bottom", "tickCount": 50, "labels": false, "domain": false, "title": null, "tickSize": 2}}, "y": {"field": "i", "type": "quantitative", "axis": {"orient": "left", "tickCount": 30, "labels": false, "domain": false, "title": null, "tickSize": 2}}}},
 {"data": {"name": "red"}, "transform": [{"filter": "datum.p == 'i'"}], "mark": {"type": "line", "color": "#d42020", "strokeWidth": 1.5}, "encoding": {"x": {"field": "t", "type": "quantitative", "axis": null}, "y": {"field": "i", "type": "quantitative", "axis": null}}},
 {"data": {"name": "labels"}, "transform": [{"filter": "datum.p == 'i'"}], "mark": "text", "encoding": {"x": {"field": "t", "type": "quantitative", "axis": null}, "y": {"datum": 156000, "type": "quantitative", "axis": null}, "text": {"field": "txt"}}}
]},
{"title": "4.45", "width": 310, "height": 189, "resolve": {"axis": {"x": "independent", "y": "independent"}}, "layer": [
 {"data": {"name": "trace"}, "transform": [{"filter": "datum.p == 'j'"}], "mark": "area", "encoding": {
   "x": {"field": "t", "type": "quantitative", "scale": {"domain": [2.0, 6.98], "nice": false, "zero": false}, "axis": {"title": "Time, min", "values": [2.5,3,3.5,4,4.5,5,5.5,6,6.5], "format": ".1f", "labelOverlap": false}},
   "y": {"field": "i", "type": "quantitative", "scale": {"domain": [0, 169000], "nice": false}, "axis": {"title": "Intensity, cps", "values": [0,20000,40000,60000,80000,100000,120000,140000,160000], "labelOverlap": false, "labelExpr": "replace(format(datum.value,'.1e'),'e+','e')"}}}},
 {"data": {"name": "trace"}, "transform": [{"filter": "datum.p == 'j'"}], "mark": {"type": "line", "color": "#3535ff", "strokeWidth": 1}, "encoding": {"x": {"field": "t", "type": "quantitative", "axis": {"orient": "bottom", "tickCount": 50, "labels": false, "domain": false, "title": null, "tickSize": 2}}, "y": {"field": "i", "type": "quantitative", "axis": {"orient": "left", "tickCount": 40, "labels": false, "domain": false, "title": null, "tickSize": 2}}}},
 {"data": {"name": "red"}, "transform": [{"filter": "datum.p == 'j'"}], "mark": {"type": "line", "color": "#d42020", "strokeWidth": 1.5}, "encoding": {"x": {"field": "t", "type": "quantitative", "axis": null}, "y": {"field": "i", "type": "quantitative", "axis": null}}},
 {"data": {"name": "labels"}, "transform": [{"filter": "datum.p == 'j'"}], "mark": "text", "encoding": {"x": {"field": "t", "type": "quantitative", "axis": null}, "y": {"datum": 41400, "type": "quantitative", "axis": null}, "text": {"field": "txt"}}}
]},
{"title": "8.48", "width": 310, "height": 189, "resolve": {"axis": {"x": "independent", "y": "independent"}}, "layer": [
 {"data": {"name": "trace"}, "transform": [{"filter": "datum.p == 'k'"}], "mark": "area", "encoding": {
   "x": {"field": "t", "type": "quantitative", "scale": {"domain": [6.01, 10.95], "nice": false, "zero": false}, "axis": {"title": "Time, min", "values": [6.5,7,7.5,8,8.5,9,9.5,10,10.5], "format": ".1f", "labelOverlap": false}},
   "y": {"field": "i", "type": "quantitative", "scale": {"domain": [0, 1780000], "nice": false}, "axis": {"title": "Intensity, cps", "values": [0,500000,1000000,1500000], "labelOverlap": false, "labelExpr": "replace(format(datum.value,'.1e'),'e+','e')"}}}},
 {"data": {"name": "trace"}, "transform": [{"filter": "datum.p == 'k'"}], "mark": {"type": "line", "color": "#3535ff", "strokeWidth": 1}, "encoding": {"x": {"field": "t", "type": "quantitative", "axis": {"orient": "bottom", "tickCount": 50, "labels": false, "domain": false, "title": null, "tickSize": 2}}, "y": {"field": "i", "type": "quantitative", "axis": {"orient": "left", "tickCount": 20, "labels": false, "domain": false, "title": null, "tickSize": 2}}}},
 {"data": {"name": "red"}, "transform": [{"filter": "datum.p == 'k'"}], "mark": {"type": "line", "color": "#d42020", "strokeWidth": 1.5}, "encoding": {"x": {"field": "t", "type": "quantitative", "axis": null}, "y": {"field": "i", "type": "quantitative", "axis": null}}},
 {"data": {"name": "labels"}, "transform": [{"filter": "datum.p == 'k'"}], "mark": "text", "encoding": {"x": {"field": "t", "type": "quantitative", "axis": null}, "y": {"datum": 436000, "type": "quantitative", "axis": null}, "text": {"field": "txt"}}}
]},
{"title": "8.48", "width": 310, "height": 189, "resolve": {"axis": {"x": "independent", "y": "independent"}}, "layer": [
 {"data": {"name": "trace"}, "transform": [{"filter": "datum.p == 'l'"}], "mark": "area", "encoding": {
   "x": {"field": "t", "type": "quantitative", "scale": {"domain": [5.98, 10.88], "nice": false, "zero": false}, "axis": {"title": "Time, min", "values": [6.5,7,7.5,8,8.5,9,9.5,10,10.5], "format": ".1f", "labelOverlap": false}},
   "y": {"field": "i", "type": "quantitative", "scale": {"domain": [0, 455000], "nice": false}, "axis": {"title": "Intensity, cps", "values": [0,100000,200000,300000,400000], "labelOverlap": false, "labelExpr": "replace(format(datum.value,'.0e'),'e+','e')"}}}},
 {"data": {"name": "trace"}, "transform": [{"filter": "datum.p == 'l'"}], "mark": {"type": "line", "color": "#3535ff", "strokeWidth": 1}, "encoding": {"x": {"field": "t", "type": "quantitative", "axis": {"orient": "bottom", "tickCount": 50, "labels": false, "domain": false, "title": null, "tickSize": 2}}, "y": {"field": "i", "type": "quantitative", "axis": {"orient": "left", "tickCount": 20, "labels": false, "domain": false, "title": null, "tickSize": 2}}}},
 {"data": {"name": "red"}, "transform": [{"filter": "datum.p == 'l'"}], "mark": {"type": "line", "color": "#d42020", "strokeWidth": 1.5}, "encoding": {"x": {"field": "t", "type": "quantitative", "axis": null}, "y": {"field": "i", "type": "quantitative", "axis": null}}},
 {"data": {"name": "labels"}, "transform": [{"filter": "datum.p == 'l'"}], "mark": "text", "encoding": {"x": {"field": "t", "type": "quantitative", "axis": null}, "y": {"datum": 120000, "type": "quantitative", "axis": null}, "text": {"field": "txt"}}}
]},
{"title": "4.70", "width": 310, "height": 189, "resolve": {"axis": {"x": "independent", "y": "independent"}}, "layer": [
 {"data": {"name": "trace"}, "transform": [{"filter": "datum.p == 'm'"}], "mark": "area", "encoding": {
   "x": {"field": "t", "type": "quantitative", "scale": {"domain": [2.29, 7.17], "nice": false, "zero": false}, "axis": {"title": "Time, min", "values": [2.5,3,3.5,4,4.5,5,5.5,6,6.5,7], "format": ".1f", "labelOverlap": false}},
   "y": {"field": "i", "type": "quantitative", "scale": {"domain": [0, 70000], "nice": false}, "axis": {"title": "Intensity, cps", "values": [0,10000,20000,30000,40000,50000,60000], "labelOverlap": false, "labelExpr": "replace(format(datum.value,'.0e'),'e+','e')"}}}},
 {"data": {"name": "trace"}, "transform": [{"filter": "datum.p == 'm'"}], "mark": {"type": "line", "color": "#3535ff", "strokeWidth": 1}, "encoding": {"x": {"field": "t", "type": "quantitative", "axis": {"orient": "bottom", "tickCount": 50, "labels": false, "domain": false, "title": null, "tickSize": 2}}, "y": {"field": "i", "type": "quantitative", "axis": {"orient": "left", "tickCount": 30, "labels": false, "domain": false, "title": null, "tickSize": 2}}}},
 {"data": {"name": "red"}, "transform": [{"filter": "datum.p == 'm'"}], "mark": {"type": "line", "color": "#d42020", "strokeWidth": 1.5}, "encoding": {"x": {"field": "t", "type": "quantitative", "axis": null}, "y": {"field": "i", "type": "quantitative", "axis": null}}},
 {"data": {"name": "labels"}, "transform": [{"filter": "datum.p == 'm'"}], "mark": "text", "encoding": {"x": {"field": "t", "type": "quantitative", "axis": null}, "y": {"datum": 17800, "type": "quantitative", "axis": null}, "text": {"field": "txt"}}}
]},
{"title": "4.70", "width": 310, "height": 189, "resolve": {"axis": {"x": "independent", "y": "independent"}}, "layer": [
 {"data": {"name": "trace"}, "transform": [{"filter": "datum.p == 'n'"}], "mark": "area", "encoding": {
   "x": {"field": "t", "type": "quantitative", "scale": {"domain": [2.09, 7.18], "nice": false, "zero": false}, "axis": {"title": "Time, min", "values": [2.5,3,3.5,4,4.5,5,5.5,6,6.5,7], "format": ".1f", "labelOverlap": false}},
   "y": {"field": "i", "type": "quantitative", "scale": {"domain": [0, 70000], "nice": false}, "axis": {"title": "Intensity, cps", "values": [0,10000,20000,30000,40000,50000,60000], "labelOverlap": false, "labelExpr": "replace(format(datum.value,'.0e'),'e+','e')"}}}},
 {"data": {"name": "trace"}, "transform": [{"filter": "datum.p == 'n'"}], "mark": {"type": "line", "color": "#3535ff", "strokeWidth": 1}, "encoding": {"x": {"field": "t", "type": "quantitative", "axis": {"orient": "bottom", "tickCount": 50, "labels": false, "domain": false, "title": null, "tickSize": 2}}, "y": {"field": "i", "type": "quantitative", "axis": {"orient": "left", "tickCount": 30, "labels": false, "domain": false, "title": null, "tickSize": 2}}}},
 {"data": {"name": "red"}, "transform": [{"filter": "datum.p == 'n'"}], "mark": {"type": "line", "color": "#d42020", "strokeWidth": 1.5}, "encoding": {"x": {"field": "t", "type": "quantitative", "axis": null}, "y": {"field": "i", "type": "quantitative", "axis": null}}},
 {"data": {"name": "labels"}, "transform": [{"filter": "datum.p == 'n'"}], "mark": "text", "encoding": {"x": {"field": "t", "type": "quantitative", "axis": null}, "y": {"datum": 17800, "type": "quantitative", "axis": null}, "text": {"field": "txt"}}}
]}
]
}
